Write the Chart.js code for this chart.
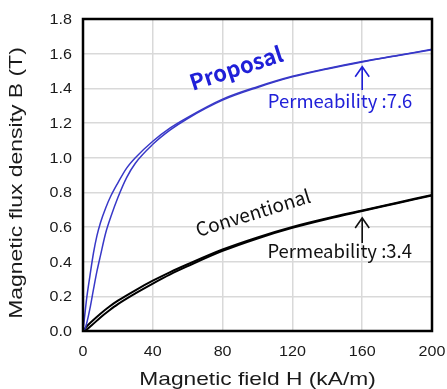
<!DOCTYPE html>
<html>
<head>
<meta charset="utf-8">
<script src="https://cdn.jsdelivr.net/npm/chart.js@4.4.1/dist/chart.umd.min.js"></script>
<style>
  html, body { margin: 0; padding: 0; background: #fff; }
  #wrap { width: 447px; height: 389px; position: relative; }
</style>
</head>
<body>
<div id="wrap"><canvas id="bhChart"></canvas></div>
<script>
// Magnetic field H (kA/m) sample points, one set per material
const hProposal = [0, 1, 2, 4, 6, 8, 10, 13, 16, 20, 25, 30, 40, 50, 60, 80, 100, 120, 140, 160, 180, 200];
const bProposalUpper = [0, 0.09, 0.18, 0.32, 0.45, 0.55, 0.625, 0.71, 0.78, 0.855, 0.94, 1.0, 1.095, 1.172, 1.233, 1.338, 1.41, 1.47, 1.515, 1.555, 1.59, 1.625];
const bProposalLower = [0, 0.01, 0.04, 0.13, 0.24, 0.345, 0.435, 0.565, 0.66, 0.77, 0.885, 0.968, 1.077, 1.16, 1.226, 1.332, 1.405, 1.466, 1.512, 1.552, 1.588, 1.623];

const hConventional = [0, 2, 5, 10, 15, 20, 30, 40, 50, 60, 80, 100, 120, 140, 160, 180, 200];
const bConventionalUpper = [0, 0.025, 0.055, 0.10, 0.14, 0.175, 0.235, 0.29, 0.34, 0.385, 0.47, 0.54, 0.60, 0.65, 0.695, 0.74, 0.785];
const bConventionalLower = [0, 0.008, 0.033, 0.078, 0.118, 0.155, 0.217, 0.274, 0.327, 0.374, 0.462, 0.534, 0.595, 0.646, 0.692, 0.737, 0.782];

const xTicks = [0, 40, 80, 120, 160, 200];
const yTicks = [0, 0.2, 0.4, 0.6, 0.8, 1.0, 1.2, 1.4, 1.6, 1.8];

const BLUE_LINE = '#3838c8';
const BLUE_TEXT = '#2020d8';
const SANS = '"Liberation Sans", Arial, sans-serif';
const NOTE = '"Noto Sans CJK JP", "Noto Sans", sans-serif';

function toPoints(xs, ys) {
  return xs.map((x, i) => ({ x: x, y: ys[i] }));
}

function lineSet(label, xs, ys, color, width) {
  return {
    label: label,
    data: toPoints(xs, ys),
    borderColor: color,
    borderWidth: width,
    pointRadius: 0,
    fill: false,
    cubicInterpolationMode: 'monotone'
  };
}

// wide-ish text: the reference type is broader than Arial
function wideText(ctx, text, x, y, angle, stretch) {
  ctx.save();
  ctx.translate(x, y);
  ctx.rotate(angle);
  ctx.scale(stretch, 1);
  ctx.fillText(text, 0, 0);
  ctx.restore();
}

// frame, tick labels, axis titles, notes and arrows
const decorPlugin = {
  id: 'decor',
  afterDraw(chart) {
    const { ctx, chartArea, scales } = chart;
    const xs = scales.x, ys = scales.y;
    ctx.save();

    ctx.strokeStyle = '#000';
    ctx.lineWidth = 2.5;
    ctx.strokeRect(chartArea.left, chartArea.top, chartArea.right - chartArea.left, chartArea.bottom - chartArea.top);

    ctx.fillStyle = '#1a1a1a';
    ctx.font = '14px ' + SANS;
    ctx.textBaseline = 'middle';
    ctx.textAlign = 'right';
    yTicks.forEach(v => wideText(ctx, v.toFixed(1), 72, ys.getPixelForValue(v) + 1, 0, 1.15));
    ctx.textAlign = 'center';
    xTicks.forEach(v => wideText(ctx, String(v), xs.getPixelForValue(v), 352, 0, 1.15));

    ctx.font = '18.5px ' + SANS;
    wideText(ctx, 'Magnetic field H (kA/m)', (chartArea.left + chartArea.right) / 2, 380, 0, 1.23);
    wideText(ctx, 'Magnetic flux density B (T)', 17, 183, -Math.PI / 2, 1.24);

    const note = (text, h, b, angle, font, color, baseline) => {
      ctx.save();
      ctx.translate(xs.getPixelForValue(h), ys.getPixelForValue(b));
      ctx.rotate(angle * Math.PI / 180);
      ctx.font = font;
      ctx.fillStyle = color;
      ctx.textAlign = 'center';
      ctx.textBaseline = baseline;
      ctx.fillText(text, 0, 0);
      ctx.restore();
    };
    const arrow = (h, bFrom, bTo, color) => {
      const x = xs.getPixelForValue(h);
      const y0 = ys.getPixelForValue(bFrom);
      const y1 = ys.getPixelForValue(bTo);
      ctx.save();
      ctx.strokeStyle = color;
      ctx.lineWidth = 1.6;
      ctx.beginPath();
      ctx.moveTo(x, y0);
      ctx.lineTo(x, y1);
      ctx.moveTo(x - 7, y1 + 10);
      ctx.lineTo(x, y1);
      ctx.lineTo(x + 7, y1 + 10);
      ctx.stroke();
      ctx.restore();
    };

    note('Proposal', 87.7, 1.518, -18, 'bold 22px ' + NOTE, BLUE_TEXT, 'middle');
    note('Permeability :7.6', 147.3, 1.285, 0, '18.5px ' + NOTE, BLUE_TEXT, 'alphabetic');
    arrow(160, 1.39, 1.525, BLUE_TEXT);

    note('Conventional', 97.4, 0.683, -17, '19px ' + NOTE, '#111', 'middle');
    note('Permeability :3.4', 147.1, 0.421, 0, '18.5px ' + NOTE, '#111', 'alphabetic');
    arrow(160, 0.508, 0.652, '#111');

    ctx.restore();
  }
};

new Chart(document.getElementById('bhChart'), {
  type: 'line',
  data: {
    datasets: [
      lineSet('Proposal (upper)', hProposal, bProposalUpper, BLUE_LINE, 1.5),
      lineSet('Proposal (lower)', hProposal, bProposalLower, BLUE_LINE, 1.5),
      lineSet('Conventional (upper)', hConventional, bConventionalUpper, '#000', 2),
      lineSet('Conventional (lower)', hConventional, bConventionalLower, '#000', 2)
    ]
  },
  options: {
    responsive: true,
    maintainAspectRatio: false,
    animation: false,
    layout: { padding: { top: 19, right: 15, left: 0, bottom: 0 } },
    plugins: { legend: { display: false }, tooltip: { enabled: false } },
    scales: {
      x: {
        type: 'linear',
        min: 0,
        max: 200,
        afterBuildTicks: s => { s.ticks = xTicks.map(v => ({ value: v })); },
        afterFit: s => { s.height = 58; },
        border: { display: false },
        grid: { color: '#d9d9d9', lineWidth: 1.5, drawTicks: false },
        ticks: { display: false }
      },
      y: {
        min: 0,
        max: 1.8,
        afterBuildTicks: s => { s.ticks = yTicks.map(v => ({ value: v })); },
        afterFit: s => { s.width = 83; },
        border: { display: false },
        grid: { color: '#d9d9d9', lineWidth: 1.5, drawTicks: false },
        ticks: { display: false }
      }
    }
  },
  plugins: [decorPlugin]
});
</script>
</body>
</html>
